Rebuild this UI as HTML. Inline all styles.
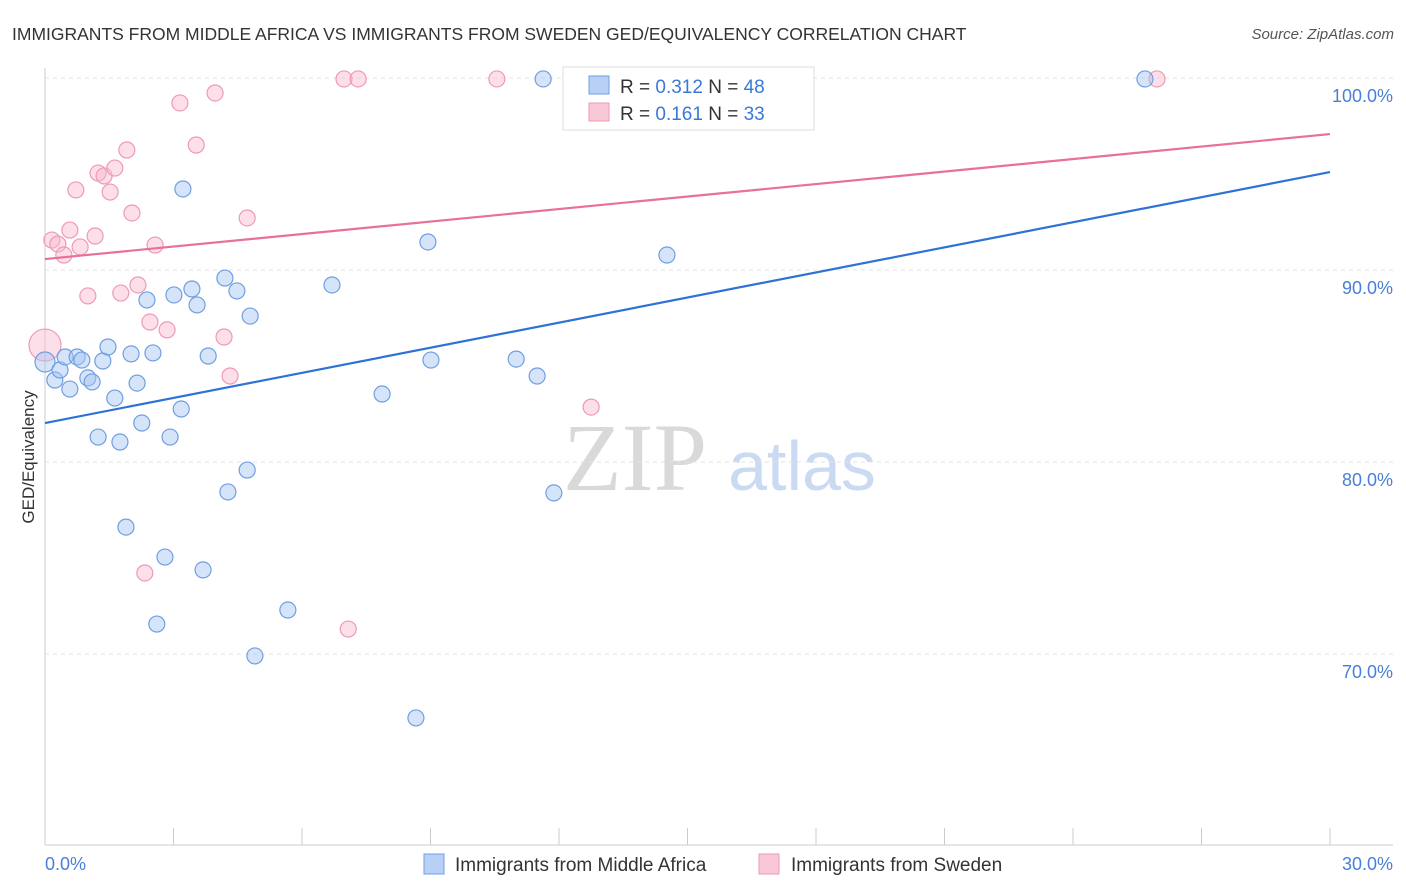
<!DOCTYPE html>
<html><head><meta charset="utf-8"><style>
body{margin:0;background:#fff;font-family:"Liberation Sans",sans-serif}
svg{display:block}
</style></head><body>
<svg width="1406" height="892" xmlns="http://www.w3.org/2000/svg">
<text x="12" y="40" font-size="17.5" fill="#333">IMMIGRANTS FROM MIDDLE AFRICA VS IMMIGRANTS FROM SWEDEN GED/EQUIVALENCY CORRELATION CHART</text>
<text x="1394" y="39" font-size="15" fill="#555" font-style="italic" text-anchor="end">Source: ZipAtlas.com</text>
<g>
<text x="635" y="490" font-size="96" font-family="Liberation Serif,serif" fill="#d9d9d9" text-anchor="middle">ZIP</text>
<text x="802" y="490" font-size="70" fill="#c9daf2" text-anchor="middle">atlas</text>
</g>
<g id="grid"></g>
<g id="axes"></g>
<g id="marks"></g>
<text transform="translate(34,457) rotate(-90)" font-size="17" fill="#333" text-anchor="middle">GED/Equivalency</text>
<g>
<rect x="563" y="67" width="251" height="63" fill="#fff" stroke="#ddd"/>
<rect x="589" y="76" width="20" height="18" fill="#b8d0f5" stroke="#6f9fe0"/>
<text x="620" y="93" font-size="19" fill="#333">R = <tspan fill="#3a78d8">0.312</tspan>   N = <tspan fill="#3a78d8">48</tspan></text>
<rect x="589" y="103" width="20" height="18" fill="#f9c8d6" stroke="#ee9ab5"/>
<text x="620" y="120" font-size="19" fill="#333">R =  <tspan fill="#3a78d8">0.161</tspan>   N = <tspan fill="#3a78d8">33</tspan></text>
</g>
<g>
<rect x="424" y="854" width="20" height="20" fill="#b8d0f5" stroke="#6f9fe0"/>
<text x="455" y="871" font-size="19" fill="#333">Immigrants from Middle Africa</text>
<rect x="759" y="854" width="20" height="20" fill="#f9c8d6" stroke="#ee9ab5"/>
<text x="791" y="871" font-size="19" fill="#333">Immigrants from Sweden</text>
</g>
</svg>
<script>
const blueX=[0,0.23,0.35,0.47,0.58,0.75,0.86,1.0,1.1,1.24,1.35,1.47,1.63,1.75,1.89,2.01,2.15,2.26,2.38,2.52,2.61,2.8,2.92,3.01,3.18,3.22,3.43,3.55,3.69,3.81,4.2,4.27,4.48,4.72,4.79,4.9,5.67,6.7,7.87,8.66,8.94,9.01,11.0,11.49,11.63,11.88,14.52,25.68];
const blueY=[85.21,84.27,84.79,85.47,83.8,85.47,85.31,84.38,84.17,81.3,85.26,85.99,83.33,81.04,76.61,85.63,84.11,82.03,88.44,85.68,71.56,75.05,81.3,88.7,82.76,94.22,89.01,88.18,74.38,85.52,89.58,78.44,88.91,79.58,87.6,69.9,72.29,89.22,83.54,66.67,91.46,85.31,85.36,84.48,99.95,78.39,90.78,99.95];
const pinkX=[0,0.16,0.3,0.44,0.58,0.72,0.82,1.0,1.17,1.24,1.38,1.52,1.63,1.77,1.91,2.03,2.17,2.33,2.45,2.57,2.85,3.15,3.53,3.97,4.18,4.32,4.72,6.98,7.08,7.31,10.55,12.75,25.96];
const pinkY=[86.09,91.56,91.35,90.78,92.08,94.17,91.2,88.65,91.77,95.05,94.9,94.06,95.31,88.8,96.25,92.97,89.22,74.22,87.29,91.3,86.88,98.7,96.51,99.22,86.51,84.48,92.71,99.95,71.3,99.95,99.95,82.86,99.95];
const blueTrend=[82.03,95.1];
const pinkTrend=[90.57,97.08];
const yTicks=[100,90,80,70];
const yTickLabels=["100.0%","90.0%","80.0%","70.0%"];
const xTickLabels=["0.0%","30.0%"];
const NS="http://www.w3.org/2000/svg";
const sx=v=>45+v/30*1285;
const sy=v=>78+(100-v)*19.2;
function mk(tag,attrs,parent){const e=document.createElementNS(NS,tag);for(const k in attrs)e.setAttribute(k,attrs[k]);document.getElementById(parent).appendChild(e);return e;}
yTicks.forEach((t,i)=>{
 const l=mk('line',{x1:45,x2:1393,y1:sy(t),y2:sy(t),stroke:'#e3e3e3','stroke-dasharray':'4,4'},'grid');
 
 
 const tx=mk('text',{x:1393,y:sy(t)+24,'font-size':18,fill:'#4a7fd6','text-anchor':'end'},'axes');
 tx.textContent=yTickLabels[i];
 
 
});
let a=mk('line',{x1:45,x2:1393,y1:845,y2:845,stroke:'#ccc'},'axes');


a=mk('line',{x1:45,x2:45,y1:68,y2:845,stroke:'#ccc'},'axes');


for(let i=0;i<=10;i++){
 const t=mk('line',{x1:sx(i*3),x2:sx(i*3),y1:828,y2:845,stroke:'#ccc'},'axes');
 
 
}
[[0,'start',45],[30,'end',1393]].forEach((d,i)=>{
 const t=mk('text',{x:d[2],y:870,'font-size':18,fill:'#4a7fd6','text-anchor':d[1]},'axes');
 t.textContent=xTickLabels[i];
 
 
});
function pts(X,Y,fill,stroke,name){
 X.forEach((x,i)=>{
  const r=i===0?(name==='pink-point'?16:10):8;
  const c=mk('circle',{cx:sx(x),cy:sy(Y[i]),r:r,fill:fill,stroke:stroke,'stroke-width':1.2},'marks');
  
  
 });
}
pts(pinkX,pinkY,'rgba(248,185,205,0.45)','#ee9ab5','pink-point');
pts(blueX,blueY,'rgba(165,195,242,0.45)','#6f9fe0','blue-point');
let tl=mk('line',{x1:sx(0),y1:sy(blueTrend[0]),x2:sx(30),y2:sy(blueTrend[1]),stroke:'#2f72d6','stroke-width':2.2},'marks');


tl=mk('line',{x1:sx(0),y1:sy(pinkTrend[0]),x2:sx(30),y2:sy(pinkTrend[1]),stroke:'#e8709a','stroke-width':2.2},'marks');


</script>
</body></html>
